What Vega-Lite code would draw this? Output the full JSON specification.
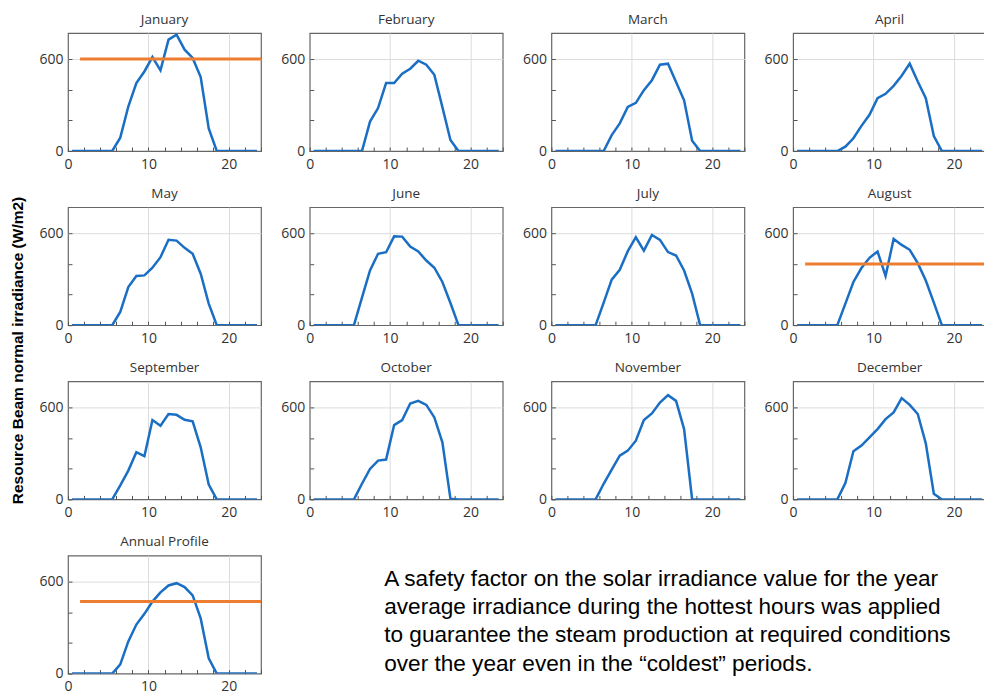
{
"$schema": "https://vega.github.io/schema/vega-lite/v6.json",
"background": "white",
"padding": {"left": 9, "top": 11, "right": 0, "bottom": 0},
"columns": 4,
"bounds": "flush",
"spacing": {"row": 56.2, "column": 48.7},
"data": {"name": "irr"},
"datasets": {
"irr": [
{"h":0.5,"January":0,"February":0,"March":0,"April":0,"May":0,"June":0,"July":0,"August":0,"September":0,"October":0,"November":0,"December":0,"Annual Profile":0},
{"h":1.5,"January":0,"February":0,"March":0,"April":0,"May":0,"June":0,"July":0,"August":0,"September":0,"October":0,"November":0,"December":0,"Annual Profile":0},
{"h":2.5,"January":0,"February":0,"March":0,"April":0,"May":0,"June":0,"July":0,"August":0,"September":0,"October":0,"November":0,"December":0,"Annual Profile":0},
{"h":3.5,"January":0,"February":0,"March":0,"April":0,"May":0,"June":0,"July":0,"August":0,"September":0,"October":0,"November":0,"December":0,"Annual Profile":0},
{"h":4.5,"January":0,"February":0,"March":0,"April":0,"May":0,"June":0,"July":0,"August":0,"September":0,"October":0,"November":0,"December":0,"Annual Profile":0},
{"h":5.5,"January":0,"February":0,"March":0,"April":0,"May":0,"June":0,"July":0,"August":0,"September":0,"October":0,"November":0,"December":0,"Annual Profile":0},
{"h":6.5,"January":87,"February":0,"March":0,"April":28,"May":87,"June":180,"July":147,"August":141,"September":91,"October":102,"November":102,"December":106,"Annual Profile":60},
{"h":7.5,"January":290,"February":192,"March":104,"April":83,"May":249,"June":357,"July":297,"August":282,"September":188,"October":199,"November":195,"December":314,"Annual Profile":210},
{"h":8.5,"January":443,"February":280,"March":180,"April":164,"May":321,"June":466,"July":362,"August":373,"September":308,"October":253,"November":286,"December":351,"Annual Profile":320},
{"h":9.5,"January":519,"February":443,"March":288,"April":236,"May":325,"June":476,"July":483,"August":440,"September":282,"October":260,"November":318,"December":405,"Annual Profile":390},
{"h":10.5,"January":613,"February":443,"March":314,"April":345,"May":375,"June":580,"July":574,"August":481,"September":518,"October":485,"November":383,"December":459,"Annual Profile":470},
{"h":11.5,"January":526,"February":504,"March":397,"April":373,"May":444,"June":578,"July":487,"August":321,"September":481,"October":518,"November":518,"December":524,"Annual Profile":530},
{"h":12.5,"January":727,"February":537,"March":462,"April":425,"May":557,"June":513,"July":589,"August":563,"September":557,"October":626,"November":561,"December":568,"Annual Profile":575},
{"h":13.5,"January":759,"February":589,"March":563,"April":491,"May":552,"June":481,"July":557,"August":524,"September":552,"October":643,"November":632,"December":661,"Annual Profile":590},
{"h":14.5,"January":661,"February":563,"March":570,"April":570,"May":505,"June":422,"July":477,"August":492,"September":520,"October":617,"November":680,"December":617,"Annual Profile":565},
{"h":15.5,"January":607,"February":497,"March":451,"April":454,"May":466,"June":375,"July":455,"August":405,"September":509,"October":535,"November":643,"December":557,"Annual Profile":510},
{"h":16.5,"January":482,"February":286,"March":331,"April":345,"May":336,"June":282,"July":357,"August":292,"September":340,"October":372,"November":459,"December":366,"Annual Profile":360},
{"h":17.5,"January":148,"February":72,"March":67,"April":98,"May":141,"June":145,"July":206,"August":147,"September":97,"October":5,"November":0,"December":37,"Annual Profile":100},
{"h":18.5,"January":0,"February":0,"March":0,"April":0,"May":0,"June":0,"July":0,"August":0,"September":0,"October":0,"November":0,"December":0,"Annual Profile":0},
{"h":19.5,"January":0,"February":0,"March":0,"April":0,"May":0,"June":0,"July":0,"August":0,"September":0,"October":0,"November":0,"December":0,"Annual Profile":0},
{"h":20.5,"January":0,"February":0,"March":0,"April":0,"May":0,"June":0,"July":0,"August":0,"September":0,"October":0,"November":0,"December":0,"Annual Profile":0},
{"h":21.5,"January":0,"February":0,"March":0,"April":0,"May":0,"June":0,"July":0,"August":0,"September":0,"October":0,"November":0,"December":0,"Annual Profile":0},
{"h":22.5,"January":0,"February":0,"March":0,"April":0,"May":0,"June":0,"July":0,"August":0,"September":0,"October":0,"November":0,"December":0,"Annual Profile":0},
{"h":23.5,"January":0,"February":0,"March":0,"April":0,"May":0,"June":0,"July":0,"August":0,"September":0,"October":0,"November":0,"December":0,"Annual Profile":0}
],
"ref": [
{"panel":"January","start":1.5,"end":24,"value":600},
{"panel":"August","start":1.5,"end":24,"value":400},
{"panel":"Annual Profile","start":1.5,"end":24,"value":470}
]
},
"concat": [
{"title":"January","width":193,"height":118,"layer":[
 {"mark":{"type":"line","color":"#1a6fc4","strokeWidth":2.5,"clip":true},"encoding":{
  "x":{"field":"h","type":"quantitative","scale":{"domain":[0,24],"nice":false},"axis":{"title":null,"labelOverlap":false,"values":[0,2,4,6,8,10,12,14,16,18,20,22,24],"labelExpr":"datum.value % 10 === 0 ? datum.label : ''","gridOpacity":{"condition":{"test":"datum.value === 10 || datum.value === 20","value":1},"value":0}}},
  "y":{"field":"January","type":"quantitative","scale":{"domain":[0,770],"nice":false},"axis":{"title":"Resource Beam normal irradiance (W/m2)","titleFont":"Liberation Sans","titleFontSize":15.5,"titleFontWeight":"bold","titleColor":"#000","titleX":-46,"titleY":317,"titleBaseline":"alphabetic","titleAngle":270,"labelOverlap":false,"values":[0,200,400,600],"labelExpr":"datum.value === 0 || datum.value === 600 ? datum.label : ''","gridOpacity":{"condition":{"test":"datum.value === 600","value":1},"value":0}}}}},
 {"data":{"name":"ref"},"transform":[{"filter":"datum.panel === 'January'"}],"mark":{"type":"rule","color":"#ed7d31","strokeWidth":3,"clip":true},"encoding":{
  "x":{"field":"start","type":"quantitative","scale":{"domain":[0,24],"nice":false},"axis":{"title":null,"labelOverlap":false,"values":[0,2,4,6,8,10,12,14,16,18,20,22,24],"labelExpr":"datum.value % 10 === 0 ? datum.label : ''","gridOpacity":{"condition":{"test":"datum.value === 10 || datum.value === 20","value":1},"value":0}}},"x2":{"field":"end"},
  "y":{"field":"value","type":"quantitative","scale":{"domain":[0,770],"nice":false},"axis":{"title":"Resource Beam normal irradiance (W/m2)","titleFont":"Liberation Sans","titleFontSize":15.5,"titleFontWeight":"bold","titleColor":"#000","titleX":-46,"titleY":317,"titleBaseline":"alphabetic","titleAngle":270,"labelOverlap":false,"values":[0,200,400,600],"labelExpr":"datum.value === 0 || datum.value === 600 ? datum.label : ''","gridOpacity":{"condition":{"test":"datum.value === 600","value":1},"value":0}}}}}
]},
{"title":"February","width":193,"height":118,"mark":{"type":"line","color":"#1a6fc4","strokeWidth":2.5,"clip":true},"encoding":{
  "x":{"field":"h","type":"quantitative","scale":{"domain":[0,24],"nice":false},"axis":{"title":null,"labelOverlap":false,"values":[0,2,4,6,8,10,12,14,16,18,20,22,24],"labelExpr":"datum.value % 10 === 0 ? datum.label : ''","gridOpacity":{"condition":{"test":"datum.value === 10 || datum.value === 20","value":1},"value":0}}},
  "y":{"field":"February","type":"quantitative","scale":{"domain":[0,770],"nice":false},"axis":{"title":null,"labelOverlap":false,"values":[0,200,400,600],"labelExpr":"datum.value === 0 || datum.value === 600 ? datum.label : ''","gridOpacity":{"condition":{"test":"datum.value === 600","value":1},"value":0}}}}},
{"title":"March","width":193,"height":118,"mark":{"type":"line","color":"#1a6fc4","strokeWidth":2.5,"clip":true},"encoding":{
  "x":{"field":"h","type":"quantitative","scale":{"domain":[0,24],"nice":false},"axis":{"title":null,"labelOverlap":false,"values":[0,2,4,6,8,10,12,14,16,18,20,22,24],"labelExpr":"datum.value % 10 === 0 ? datum.label : ''","gridOpacity":{"condition":{"test":"datum.value === 10 || datum.value === 20","value":1},"value":0}}},
  "y":{"field":"March","type":"quantitative","scale":{"domain":[0,770],"nice":false},"axis":{"title":null,"labelOverlap":false,"values":[0,200,400,600],"labelExpr":"datum.value === 0 || datum.value === 600 ? datum.label : ''","gridOpacity":{"condition":{"test":"datum.value === 600","value":1},"value":0}}}}},
{"title":"April","width":193,"height":118,"mark":{"type":"line","color":"#1a6fc4","strokeWidth":2.5,"clip":true},"encoding":{
  "x":{"field":"h","type":"quantitative","scale":{"domain":[0,24],"nice":false},"axis":{"title":null,"labelOverlap":false,"values":[0,2,4,6,8,10,12,14,16,18,20,22,24],"labelExpr":"datum.value % 10 === 0 ? datum.label : ''","gridOpacity":{"condition":{"test":"datum.value === 10 || datum.value === 20","value":1},"value":0}}},
  "y":{"field":"April","type":"quantitative","scale":{"domain":[0,770],"nice":false},"axis":{"title":null,"labelOverlap":false,"values":[0,200,400,600],"labelExpr":"datum.value === 0 || datum.value === 600 ? datum.label : ''","gridOpacity":{"condition":{"test":"datum.value === 600","value":1},"value":0}}}}},
{"title":"May","width":193,"height":118,"mark":{"type":"line","color":"#1a6fc4","strokeWidth":2.5,"clip":true},"encoding":{
  "x":{"field":"h","type":"quantitative","scale":{"domain":[0,24],"nice":false},"axis":{"title":null,"labelOverlap":false,"values":[0,2,4,6,8,10,12,14,16,18,20,22,24],"labelExpr":"datum.value % 10 === 0 ? datum.label : ''","gridOpacity":{"condition":{"test":"datum.value === 10 || datum.value === 20","value":1},"value":0}}},
  "y":{"field":"May","type":"quantitative","scale":{"domain":[0,770],"nice":false},"axis":{"title":null,"labelOverlap":false,"values":[0,200,400,600],"labelExpr":"datum.value === 0 || datum.value === 600 ? datum.label : ''","gridOpacity":{"condition":{"test":"datum.value === 600","value":1},"value":0}}}}},
{"title":"June","width":193,"height":118,"mark":{"type":"line","color":"#1a6fc4","strokeWidth":2.5,"clip":true},"encoding":{
  "x":{"field":"h","type":"quantitative","scale":{"domain":[0,24],"nice":false},"axis":{"title":null,"labelOverlap":false,"values":[0,2,4,6,8,10,12,14,16,18,20,22,24],"labelExpr":"datum.value % 10 === 0 ? datum.label : ''","gridOpacity":{"condition":{"test":"datum.value === 10 || datum.value === 20","value":1},"value":0}}},
  "y":{"field":"June","type":"quantitative","scale":{"domain":[0,770],"nice":false},"axis":{"title":null,"labelOverlap":false,"values":[0,200,400,600],"labelExpr":"datum.value === 0 || datum.value === 600 ? datum.label : ''","gridOpacity":{"condition":{"test":"datum.value === 600","value":1},"value":0}}}}},
{"title":"July","width":193,"height":118,"mark":{"type":"line","color":"#1a6fc4","strokeWidth":2.5,"clip":true},"encoding":{
  "x":{"field":"h","type":"quantitative","scale":{"domain":[0,24],"nice":false},"axis":{"title":null,"labelOverlap":false,"values":[0,2,4,6,8,10,12,14,16,18,20,22,24],"labelExpr":"datum.value % 10 === 0 ? datum.label : ''","gridOpacity":{"condition":{"test":"datum.value === 10 || datum.value === 20","value":1},"value":0}}},
  "y":{"field":"July","type":"quantitative","scale":{"domain":[0,770],"nice":false},"axis":{"title":null,"labelOverlap":false,"values":[0,200,400,600],"labelExpr":"datum.value === 0 || datum.value === 600 ? datum.label : ''","gridOpacity":{"condition":{"test":"datum.value === 600","value":1},"value":0}}}}},
{"title":"August","width":193,"height":118,"layer":[
 {"mark":{"type":"line","color":"#1a6fc4","strokeWidth":2.5,"clip":true},"encoding":{
  "x":{"field":"h","type":"quantitative","scale":{"domain":[0,24],"nice":false},"axis":{"title":null,"labelOverlap":false,"values":[0,2,4,6,8,10,12,14,16,18,20,22,24],"labelExpr":"datum.value % 10 === 0 ? datum.label : ''","gridOpacity":{"condition":{"test":"datum.value === 10 || datum.value === 20","value":1},"value":0}}},
  "y":{"field":"August","type":"quantitative","scale":{"domain":[0,770],"nice":false},"axis":{"title":null,"labelOverlap":false,"values":[0,200,400,600],"labelExpr":"datum.value === 0 || datum.value === 600 ? datum.label : ''","gridOpacity":{"condition":{"test":"datum.value === 600","value":1},"value":0}}}}},
 {"data":{"name":"ref"},"transform":[{"filter":"datum.panel === 'August'"}],"mark":{"type":"rule","color":"#ed7d31","strokeWidth":3,"clip":true},"encoding":{
  "x":{"field":"start","type":"quantitative","scale":{"domain":[0,24],"nice":false},"axis":{"title":null,"labelOverlap":false,"values":[0,2,4,6,8,10,12,14,16,18,20,22,24],"labelExpr":"datum.value % 10 === 0 ? datum.label : ''","gridOpacity":{"condition":{"test":"datum.value === 10 || datum.value === 20","value":1},"value":0}}},"x2":{"field":"end"},
  "y":{"field":"value","type":"quantitative","scale":{"domain":[0,770],"nice":false},"axis":{"title":null,"labelOverlap":false,"values":[0,200,400,600],"labelExpr":"datum.value === 0 || datum.value === 600 ? datum.label : ''","gridOpacity":{"condition":{"test":"datum.value === 600","value":1},"value":0}}}}}
]},
{"title":"September","width":193,"height":118,"mark":{"type":"line","color":"#1a6fc4","strokeWidth":2.5,"clip":true},"encoding":{
  "x":{"field":"h","type":"quantitative","scale":{"domain":[0,24],"nice":false},"axis":{"title":null,"labelOverlap":false,"values":[0,2,4,6,8,10,12,14,16,18,20,22,24],"labelExpr":"datum.value % 10 === 0 ? datum.label : ''","gridOpacity":{"condition":{"test":"datum.value === 10 || datum.value === 20","value":1},"value":0}}},
  "y":{"field":"September","type":"quantitative","scale":{"domain":[0,770],"nice":false},"axis":{"title":null,"labelOverlap":false,"values":[0,200,400,600],"labelExpr":"datum.value === 0 || datum.value === 600 ? datum.label : ''","gridOpacity":{"condition":{"test":"datum.value === 600","value":1},"value":0}}}}},
{"title":"October","width":193,"height":118,"mark":{"type":"line","color":"#1a6fc4","strokeWidth":2.5,"clip":true},"encoding":{
  "x":{"field":"h","type":"quantitative","scale":{"domain":[0,24],"nice":false},"axis":{"title":null,"labelOverlap":false,"values":[0,2,4,6,8,10,12,14,16,18,20,22,24],"labelExpr":"datum.value % 10 === 0 ? datum.label : ''","gridOpacity":{"condition":{"test":"datum.value === 10 || datum.value === 20","value":1},"value":0}}},
  "y":{"field":"October","type":"quantitative","scale":{"domain":[0,770],"nice":false},"axis":{"title":null,"labelOverlap":false,"values":[0,200,400,600],"labelExpr":"datum.value === 0 || datum.value === 600 ? datum.label : ''","gridOpacity":{"condition":{"test":"datum.value === 600","value":1},"value":0}}}}},
{"title":"November","width":193,"height":118,"mark":{"type":"line","color":"#1a6fc4","strokeWidth":2.5,"clip":true},"encoding":{
  "x":{"field":"h","type":"quantitative","scale":{"domain":[0,24],"nice":false},"axis":{"title":null,"labelOverlap":false,"values":[0,2,4,6,8,10,12,14,16,18,20,22,24],"labelExpr":"datum.value % 10 === 0 ? datum.label : ''","gridOpacity":{"condition":{"test":"datum.value === 10 || datum.value === 20","value":1},"value":0}}},
  "y":{"field":"November","type":"quantitative","scale":{"domain":[0,770],"nice":false},"axis":{"title":null,"labelOverlap":false,"values":[0,200,400,600],"labelExpr":"datum.value === 0 || datum.value === 600 ? datum.label : ''","gridOpacity":{"condition":{"test":"datum.value === 600","value":1},"value":0}}}}},
{"title":"December","width":193,"height":118,"mark":{"type":"line","color":"#1a6fc4","strokeWidth":2.5,"clip":true},"encoding":{
  "x":{"field":"h","type":"quantitative","scale":{"domain":[0,24],"nice":false},"axis":{"title":null,"labelOverlap":false,"values":[0,2,4,6,8,10,12,14,16,18,20,22,24],"labelExpr":"datum.value % 10 === 0 ? datum.label : ''","gridOpacity":{"condition":{"test":"datum.value === 10 || datum.value === 20","value":1},"value":0}}},
  "y":{"field":"December","type":"quantitative","scale":{"domain":[0,770],"nice":false},"axis":{"title":null,"labelOverlap":false,"values":[0,200,400,600],"labelExpr":"datum.value === 0 || datum.value === 600 ? datum.label : ''","gridOpacity":{"condition":{"test":"datum.value === 600","value":1},"value":0}}}}},
{"title":"Annual Profile","width":193,"height":118,"layer":[
 {"mark":{"type":"line","color":"#1a6fc4","strokeWidth":2.5,"clip":true},"encoding":{
  "x":{"field":"h","type":"quantitative","scale":{"domain":[0,24],"nice":false},"axis":{"title":null,"labelOverlap":false,"values":[0,2,4,6,8,10,12,14,16,18,20,22,24],"labelExpr":"datum.value % 10 === 0 ? datum.label : ''","gridOpacity":{"condition":{"test":"datum.value === 10 || datum.value === 20","value":1},"value":0}}},
  "y":{"field":"Annual Profile","type":"quantitative","scale":{"domain":[0,770],"nice":false},"axis":{"title":null,"labelOverlap":false,"values":[0,200,400,600],"labelExpr":"datum.value === 0 || datum.value === 600 ? datum.label : ''","gridOpacity":{"condition":{"test":"datum.value === 600","value":1},"value":0}}}}},
 {"data":{"name":"ref"},"transform":[{"filter":"datum.panel === 'Annual Profile'"}],"mark":{"type":"rule","color":"#ed7d31","strokeWidth":3,"clip":true},"encoding":{
  "x":{"field":"start","type":"quantitative","scale":{"domain":[0,24],"nice":false},"axis":{"title":null,"labelOverlap":false,"values":[0,2,4,6,8,10,12,14,16,18,20,22,24],"labelExpr":"datum.value % 10 === 0 ? datum.label : ''","gridOpacity":{"condition":{"test":"datum.value === 10 || datum.value === 20","value":1},"value":0}}},"x2":{"field":"end"},
  "y":{"field":"value","type":"quantitative","scale":{"domain":[0,770],"nice":false},"axis":{"title":null,"labelOverlap":false,"values":[0,200,400,600],"labelExpr":"datum.value === 0 || datum.value === 600 ? datum.label : ''","gridOpacity":{"condition":{"test":"datum.value === 600","value":1},"value":0}}}}}
]},
{"width":193,"height":118,"view":{"stroke":null},
 "data":{"values":[{"note":"A safety factor on the solar irradiance value for the year\naverage irradiance during the hottest hours was applied\nto guarantee the steam production at required conditions\nover the year even in the “coldest” periods."}]},
 "mark":{"type":"text","lineBreak":"\n","align":"left","baseline":"middle","font":"Liberation Sans","fontSize":22.6,"lineHeight":28.4,"color":"#000","dx":-22,"dy":-36},
 "encoding":{"text":{"field":"note","type":"nominal"}}}
],
"config": {
 "view": {"stroke": "#666", "strokeWidth": 1.2},
 "axis": {"domain": false, "grid": true, "gridColor": "#dcdcdc", "gridWidth": 1, "tickColor": "#555", "tickSize": -4, "tickWidth": 1, "labelFont": "Open Sans", "labelFontSize": 14, "labelColor": "#333", "labelFlush": false, "labelOverlap": false, "labelBound": false},
 "axisX": {"labelPadding": 10},
 "axisY": {"labelPadding": 9},
 "title": {"font": "Open Sans", "fontSize": 13.5, "fontWeight": "normal", "color": "#333", "offset": 7}
}
}
